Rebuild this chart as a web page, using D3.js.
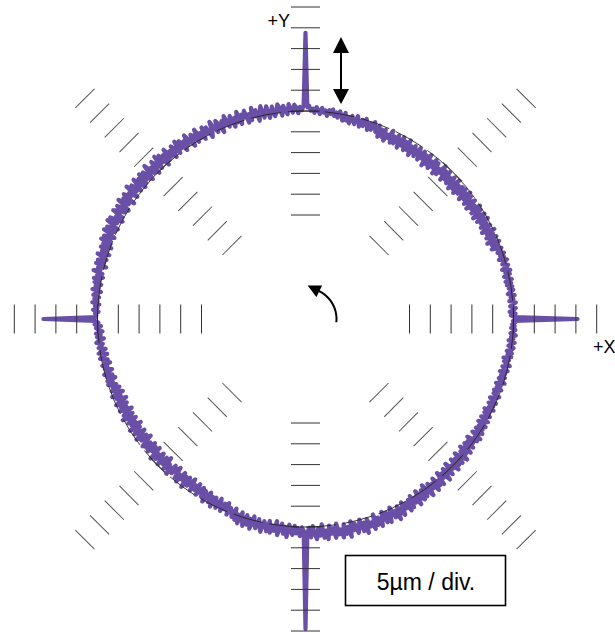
<!DOCTYPE html>
<html>
<head>
<meta charset="utf-8">
<script src="https://cdn.jsdelivr.net/npm/d3@7"></script>
<style>
  html, body { margin: 0; padding: 0; background: #fff; }
  svg { display: block; }
  text { font-family: "Liberation Sans", Arial, sans-serif; }
</style>
</head>
<body>
<svg id="chart" width="615" height="633"></svg>
<script>
// ---- DATA ----
// Radial deviation of the measured path (µm, + = outward), one value per 0.5°, 0° = +X, counter-clockwise
const deviation = [
  15.4,0.3,-0.6,0.5,-0.9,0.1,0.6,-0.7,-0.1,0.7,-0.8,0.2,-0.4,0.6,-1.0,-0.2,0.4,-0.6,0.3,-0.9,
  0.2,-1.1,0.5,-0.4,-1.2,0.3,-0.7,0.6,-1.3,-0.1,0.4,-0.9,-0.3,0.5,-1.4,0.0,-0.8,0.3,-1.2,-0.5,
  0.1,-2.2,-0.6,-1.8,0.2,-2.7,-1.0,0.0,-2.4,-0.5,-1.9,0.3,-2.8,-1.3,-0.2,-2.5,-0.8,-2.0,0.1,-2.6,
  -0.9,-0.1,-3.0,-1.5,-0.4,-2.7,0.0,-2.2,-1.1,-3.1,-0.3,-1.8,-2.9,-0.6,-2.3,-0.1,-3.2,-1.4,-0.5,-2.6,
  -0.7,-3.3,-1.2,-2.8,-0.3,-3.5,-1.9,-0.6,-3.0,-1.4,-2.6,-0.4,-3.4,-1.0,-2.2,-0.2,-3.1,-1.7,-3.6,-0.8,
  -2.5,-0.5,-3.3,-1.5,-2.9,-0.3,-3.7,-1.1,-2.4,-0.6,-3.2,-1.8,-0.4,-3.0,-2.0,-0.7,-3.5,-1.3,-2.7,-0.2,
  -3.1,-1.0,-2.4,-0.3,-3.3,-1.6,-0.5,-2.8,-1.2,-3.0,-0.1,-2.2,-1.5,-3.2,-0.6,-2.5,-0.9,-2.9,-0.2,-2.0,
  -1.1,0.2,-1.9,-0.4,-2.2,-0.8,0.3,-1.6,-0.2,-2.0,-0.6,0.4,-1.7,-0.9,0.1,-1.8,-0.3,-1.3,0.5,-1.5,
  -0.4,0.6,-1.0,0.2,-0.7,0.8,-0.3,0.5,-0.9,0.4,-0.2,0.9,-0.6,0.3,1.0,-0.4,0.6,0.1,1.2,0.9,
  18.8,1.3,0.2,1.0,-0.5,0.9,1.6,-0.3,0.7,1.8,-0.6,0.4,1.5,-0.8,1.1,2.0,0.1,-0.7,1.7,0.3,
  -0.9,2.0,0.5,-0.6,2.3,0.8,-1.1,1.6,0.2,2.4,-0.5,1.1,-0.9,2.2,0.6,1.5,-0.7,2.5,0.0,1.3,
  -0.8,2.1,0.9,-0.3,2.6,0.4,1.7,-1.0,1.2,2.3,-0.4,0.8,2.7,0.1,-0.9,1.9,0.6,2.4,-0.5,1.4,
  0.2,2.8,-0.3,1.6,2.2,-0.6,1.0,2.9,0.4,1.8,-0.4,2.5,0.7,3.0,0.0,1.5,2.6,-0.2,1.9,0.6,
  3.1,0.3,2.2,-0.4,2.8,1.0,3.3,0.1,1.7,2.9,-0.3,2.0,0.6,3.4,1.2,-0.2,2.6,0.8,3.0,0.4,
  2.4,-0.1,3.2,1.5,0.2,2.7,0.9,3.5,0.0,2.1,1.3,3.0,-0.3,2.5,0.7,3.3,1.1,-0.1,2.8,0.5,
  2.2,3.1,0.3,1.8,-0.2,2.9,0.8,3.2,1.4,0.0,2.6,0.5,3.0,1.0,-0.1,2.4,0.6,2.8,0.2,1.9,
  -0.3,2.2,0.5,1.6,-0.4,2.4,0.9,-0.1,1.9,0.3,2.1,-0.5,1.4,0.7,2.3,0.0,1.2,-0.3,1.8,0.4,
  1.5,-0.2,1.1,0.3,1.7,-0.4,0.8,1.3,-0.1,1.0,0.2,1.4,-0.3,0.7,0.1,1.1,-0.2,0.6,0.3,0.5,
  13.0,0.6,-0.2,0.7,-0.8,0.4,-0.3,-1.1,0.5,-0.6,0.3,-1.3,-0.1,0.6,-0.9,-0.4,0.2,-1.4,-0.5,0.4,
  -1.6,-0.2,0.3,-1.5,-0.6,-1.9,0.1,-1.0,-0.3,-2.0,-0.7,0.2,-1.7,-0.4,-2.2,-0.1,-1.3,0.0,-1.9,-0.8,
  -2.4,-0.3,-1.6,-2.8,0.1,-1.9,-0.7,-3.0,-1.2,0.0,-2.6,-0.8,-2.1,-0.2,-3.1,-1.4,-0.5,-2.7,0.2,-1.8,
  -2.9,-0.6,-2.2,-1.0,-3.3,0.0,-2.5,-1.3,-0.4,-3.0,-1.7,-0.1,-2.7,-0.9,-3.4,-1.5,-0.3,-2.3,-0.8,-3.1,
  -0.5,-2.6,-1.4,-3.2,0.1,-2.0,-0.7,-3.0,-1.8,-0.2,-2.8,-1.1,-3.5,-0.4,-2.2,-1.6,0.0,-2.9,-0.9,-2.4,
  -3.3,-0.6,-1.9,-0.1,-3.0,-1.3,-2.5,0.2,-2.8,-0.8,-1.7,-3.2,-0.3,-2.1,-1.0,-2.9,-0.2,-1.6,-2.6,-0.5,
  -2.2,0.4,-1.4,-2.5,-0.1,-1.8,0.6,-2.0,-0.7,0.3,-2.3,-1.0,0.5,-1.6,-0.3,-2.1,0.7,-1.2,-0.4,0.8,
  -1.5,1.2,-0.3,1.8,-1.1,0.6,2.0,-0.8,1.4,-0.2,2.2,-1.0,0.9,1.7,-0.6,1.1,2.3,-0.4,0.5,1.9,
  -0.7,2.1,0.3,1.5,-0.9,2.4,0.8,-0.5,1.9,0.2,2.6,-0.4,1.2,2.0,-0.2,1.6,0.4,2.2,0.1,0.9,
  24.5,1.4,0.2,2.5,-0.2,1.8,3.0,0.4,2.2,-0.5,2.8,1.1,3.2,0.0,2.0,0.7,3.1,-0.3,2.4,1.3,
  3.3,0.2,2.6,1.0,3.5,-0.2,2.1,0.6,3.0,1.7,-0.1,2.9,0.9,3.6,0.3,2.3,1.4,3.2,-0.3,2.5,
  0.8,3.1,1.5,-0.2,2.7,0.4,3.0,1.2,-0.4,2.4,0.9,3.3,0.1,1.9,2.8,-0.3,1.6,0.5,2.6,0.0,
  2.2,-0.6,1.5,0.3,2.5,-0.9,1.2,2.0,-0.4,1.7,-1.2,0.8,2.3,-0.7,1.0,-0.1,2.1,-1.0,1.4,0.2,
  1.8,-1.3,0.6,-0.5,1.9,-1.1,0.2,1.4,-1.6,0.5,-0.3,1.6,-1.4,0.9,-0.8,1.2,-1.7,0.3,1.5,-1.0,
  0.4,-1.8,1.1,-0.6,-1.5,0.8,-1.2,0.1,-1.9,0.6,-0.4,1.0,-1.6,-0.2,0.7,-1.4,0.2,-1.1,0.5,-1.8,
  -0.3,0.4,-1.7,-0.8,0.2,-1.5,-0.4,-1.9,0.3,-1.1,-0.2,-1.6,0.1,-0.9,-1.8,-0.3,0.2,-1.4,-0.7,-1.6,
  0.1,-1.2,-0.4,-1.7,0.3,-0.9,-1.4,0.0,-1.1,-0.3,-1.6,0.2,-0.8,-1.3,0.4,-0.6,-1.2,-0.1,-1.5,0.3,
  -0.7,0.3,-1.0,0.1,0.5,-0.8,-0.2,0.6,-0.9,0.2,-0.4,0.7,-0.6,0.0,0.5,-0.5,0.3,-0.3,0.4,-0.1
];
const angleStepDeg = 0.5;               // one sample per half degree
const tickValues = [-25, -20, -15, -10, -5, 0, 5, 10, 15, 20, 25]; // µm, 5 µm per division
const axisAngles = [0, 90, 180, 270];
const diagAngles = [45, 135, 225, 315];
const axisLabels = ["+X", "+Y"];
const scaleLabel = "5µm / div.";

// ---- LAYOUT ----
const W = 615, H = 633;
const cx = 305.5, cy = 319;
const purple = "#6a4fa6";

const svg = d3.select("#chart");
svg.append("rect").attr("width", W).attr("height", H).attr("fill", "#fff");

// radial scale: -50 µm at the centre, 0 µm on the reference circle (10 divisions)
const rScale = d3.scaleLinear().domain([-50, 25]).range([0, 312]);

const g = svg.append("g").attr("transform", `translate(${cx},${cy})`);

// measured trace
const line = d3.lineRadial()
  .angle((d, i) => (90 - i * angleStepDeg) * Math.PI / 180)
  .radius(d => rScale(d))
  .curve(d3.curveLinearClosed);
g.append("path").datum(deviation)
  .attr("d", line)
  .attr("fill", "none").attr("stroke", purple)
  .attr("stroke-width", 4.2).attr("stroke-linejoin", "round");

// ticks along axes and diagonals
function drawTicks(angles, len, color) {
  angles.forEach(a => {
    const tg = g.append("g").attr("transform", `rotate(${-a})`);
    tg.selectAll("line").data(tickValues).join("line")
      .attr("x1", d => rScale(d)).attr("x2", d => rScale(d))
      .attr("y1", -len / 2).attr("y2", len / 2)
      .attr("stroke", color).attr("stroke-width", 1);
  });
}
drawTicks(axisAngles, 29, "#333");
drawTicks(diagAngles, 27, "#555");

// reference circle
g.append("circle").attr("r", rScale(0))
  .attr("fill", "none").attr("stroke", "#222").attr("stroke-width", 0.9)
  .attr("stroke-dasharray", "30,7");

// direction-of-travel arrow (counter-clockwise)
const defs = svg.append("defs");
defs.append("marker").attr("id", "head").attr("viewBox", "0 0 10 10")
  .attr("refX", 1).attr("refY", 5).attr("markerWidth", 7.5).attr("markerHeight", 6.5)
  .attr("orient", "auto").attr("markerUnits", "strokeWidth")
  .append("path").attr("d", "M0,0 L10,5 L0,10 Z").attr("fill", "#000");
const rr = 31;
const p = d3.path();
p.moveTo(rr * Math.cos(-6 * Math.PI / 180), -rr * Math.sin(-6 * Math.PI / 180));
d3.range(-6, 67, 4).forEach(a => {
  p.lineTo(rr * Math.cos(a * Math.PI / 180), -rr * Math.sin(a * Math.PI / 180));
});
g.append("path").attr("d", p.toString()).attr("fill", "none")
  .attr("stroke", "#000").attr("stroke-width", 2).attr("marker-end", "url(#head)");

// double-headed scale arrow
const ax = 341;
svg.append("line").attr("x1", ax).attr("x2", ax).attr("y1", 50).attr("y2", 92)
  .attr("stroke", "#000").attr("stroke-width", 2);
svg.append("path").attr("d", `M${ax},37 L${ax - 8},53 L${ax + 8},53 Z`).attr("fill", "#000");
svg.append("path").attr("d", `M${ax},104 L${ax - 8},89 L${ax + 8},89 Z`).attr("fill", "#000");

// axis labels
svg.append("text").attr("x", 593).attr("y", 353).attr("font-size", 18)
  .attr("fill", "#000").text(axisLabels[0]);
svg.append("text").attr("x", 290).attr("y", 27).attr("font-size", 18)
  .attr("text-anchor", "end").attr("fill", "#000").text(axisLabels[1]);

// scale box
svg.append("rect").attr("x", 345.5).attr("y", 555.5).attr("width", 160).attr("height", 50)
  .attr("fill", "#fff").attr("stroke", "#000").attr("stroke-width", 1.6);
svg.append("text").attr("x", 426).attr("y", 590).attr("font-size", 23)
  .attr("text-anchor", "middle").attr("fill", "#000").text(scaleLabel);
</script>
</body>
</html>
